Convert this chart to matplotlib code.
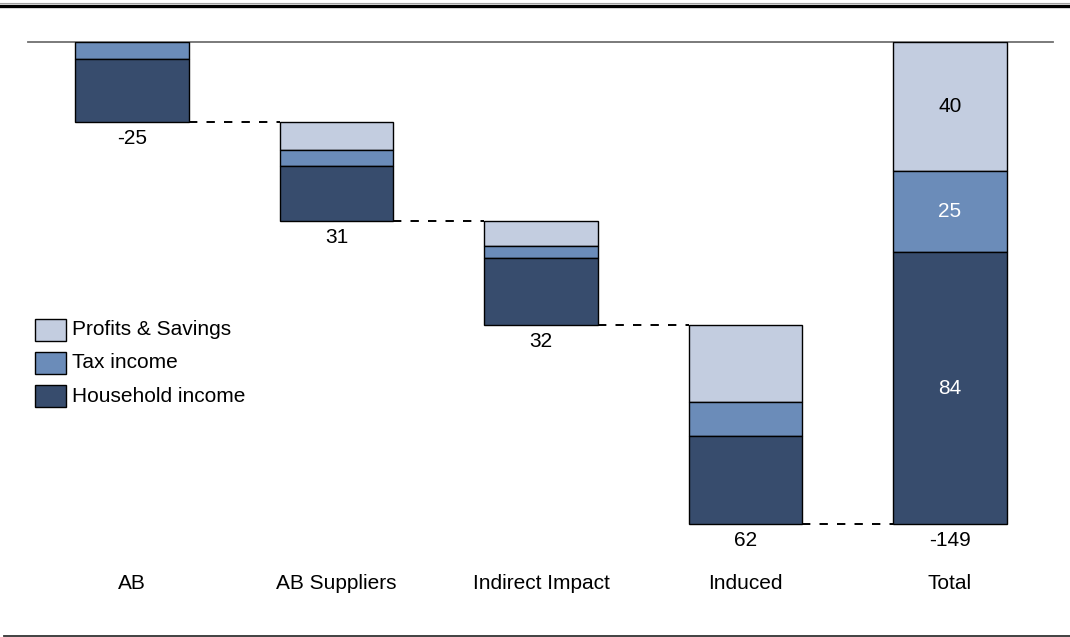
import matplotlib
matplotlib.use("Agg")
import matplotlib.pyplot as plt
from matplotlib.patches import Rectangle
from matplotlib.lines import Line2D

plt.rcParams['font.family'] = ['Liberation Sans', 'DejaVu Sans']

categories = ["AB", "AB Suppliers", "Indirect Impact", "Induced", "Total"]
household = [19.5, 17.0, 20.7, 27.2, 84]
tax = [5.3, 4.9, 3.7, 10.5, 25]
profits = [0.0, 8.7, 7.7, 23.8, 40]
value_labels = ["-25", "31", "32", "62", "-149"]
total_inner_labels = ["84", "25", "40"]
series_names = ["Profits & Savings", "Tax income", "Household income"]

c_light = "#C3CDE0"
c_mid = "#6B8CB9"
c_dark = "#374C6D"
colors = [c_light, c_mid, c_dark]

FS = 15

W, H = 1070, 637
fig = plt.figure(figsize=(W / 100, H / 100), dpi=100)

# axes: pixel x 28..1053, y 42..600
ax = fig.add_axes([28 / W, 1 - 600 / H, (1053 - 28) / W, (600 - 42) / H])
ymax = 558 / 3.235
ax.set_ylim(ymax, 0)
ax.set_xlim(-0.509, 4.504)
ax.axis("off")

bw = 0.557
start = 0.0
bottoms = []
for i in range(len(categories)):
    if i < len(categories) - 1:
        top = start
    else:
        top = 0.0
    segs = [(profits[i], c_light), (tax[i], c_mid), (household[i], c_dark)]
    y = top
    for val, col in segs:
        if val > 0:
            ax.bar(i, val, bottom=y, width=bw, color=col, edgecolor="black",
                   linewidth=1.0, zorder=3)
        y += val
    bottoms.append(y)
    if i < len(categories) - 1:
        start = y
    ax.text(i, y + 5.0, value_labels[i], ha="center", va="center",
            fontsize=FS, color="black")
    ax.text(i, ymax - 5.0, categories[i], ha="center", va="center",
            fontsize=FS, color="black")

# total inner labels
ti = len(categories) - 1
centers = [household[ti] / 2 + profits[ti] + tax[ti],
           profits[ti] + tax[ti] / 2,
           profits[ti] / 2]
inner_colors = ["white", "white", "black"]
for lab, cy, tc in zip(total_inner_labels, centers, inner_colors):
    ax.text(ti, cy, lab, ha="center", va="center", fontsize=FS, color=tc,
            zorder=5)

# dashed connectors
for i in range(len(categories) - 1):
    y = bottoms[i]
    ax.plot([i + bw / 2, i + 1 - bw / 2], [y, y], color="black",
            linewidth=1.4, zorder=2, dashes=(4.3, 4.7))

# top baseline
ax.plot([-0.509, 4.504], [0, 0], color="#707070", linewidth=1.3, zorder=1,
        clip_on=False)

# legend (manual)
legend_rows = [330, 363, 396]
for name, col, yc in zip(series_names, colors, legend_rows):
    fig.patches.append(Rectangle((35 / W, 1 - (yc + 11) / H), 31 / W, 22 / H,
                                 transform=fig.transFigure, facecolor=col,
                                 edgecolor="black", linewidth=1.0))
    fig.text(72 / W, 1 - yc / H, name, ha="left", va="center", fontsize=FS)

# top decorative rules
fig.lines.append(Line2D([0, 1], [1 - 3 / H, 1 - 3 / H], transform=fig.transFigure,
                        color="#A0A0A0", linewidth=0.8))
fig.lines.append(Line2D([0, 1], [1 - 5.5 / H, 1 - 5.5 / H], transform=fig.transFigure,
                        color="black", linewidth=2.4))
# bottom rule
fig.lines.append(Line2D([4 / W, 1], [1 - 636 / H, 1 - 636 / H], transform=fig.transFigure,
                        color="#333333", linewidth=1.3))

fig.savefig("out.png", dpi=100)
